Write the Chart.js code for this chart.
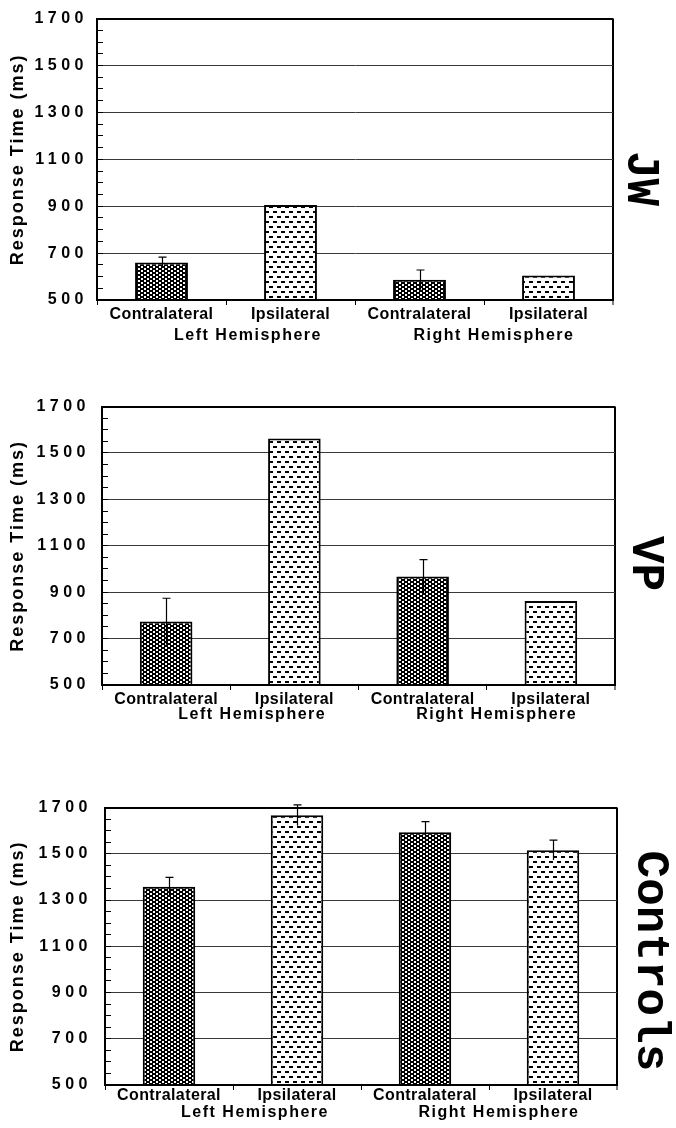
<!DOCTYPE html>
<html>
<head>
<meta charset="utf-8">
<script src="https://cdn.jsdelivr.net/npm/chart.js@4.4.1/dist/chart.umd.min.js"></script>
<style>
  body { margin: 0; background: #fff; }
  canvas { position: absolute; left: 0; }
</style>
</head>
<body>
<canvas id="chartJW" width="676" height="345" style="top:0px"></canvas>
<canvas id="chartVP" width="676" height="345" style="top:385px"></canvas>
<canvas id="chartControls" width="676" height="340" style="top:785px"></canvas>
<script>
// values (ms)
var categories = ['Contralateral', 'Ipsilateral', 'Contralateral', 'Ipsilateral'];
var hemispheres = ['Left Hemisphere', 'Right Hemisphere'];
var yMin = 500, yMax = 1700, yStep = 200, yMinorStep = 50;

var jwMeans = [660, 905, 586, 604];
var jwErrors = [23, 0, 42, 0];
var vpMeans = [774, 1563, 968, 862];
var vpErrors = [100, 0, 72, 0];
var controlMeans = [1358, 1667, 1593, 1516];
var controlErrors = [40, 45, 46, 43];

Chart.defaults.font.family = '"Liberation Sans", Arial, sans-serif';
Chart.defaults.color = '#000';

// dense dotted fill for contralateral bars
function checkerPattern(ctx) {
	var c = document.createElement('canvas');
	c.width = 6; c.height = 4;
	var g = c.getContext('2d');
	g.fillStyle = '#000';
	g.fillRect(0, 0, 6, 4);
	g.fillStyle = '#fff';
	g.fillRect(0, 0, 2, 2);
	g.fillRect(3, 2, 2, 2);
	return ctx.createPattern(c, 'repeat');
}

// staggered dashes for ipsilateral bars
function dashPattern(ctx) {
	var c = document.createElement('canvas');
	c.width = 8; c.height = 10;
	var g = c.getContext('2d');
	g.fillStyle = '#fff';
	g.fillRect(0, 0, 8, 10);
	g.fillStyle = '#000';
	g.fillRect(1, 1, 4, 2);
	g.fillRect(5, 6, 3, 2);
	g.fillRect(0, 6, 1, 2);
	return ctx.createPattern(c, 'repeat');
}

// wide letter spacing like the original typesetting
var spacedText = {
	id: 'spacedText',
	beforeDraw: function(chart) {
		var ctx = chart.ctx;
		[['y', 'drawLabels', '4.5px'], ['y', 'drawTitle', '2px'], ['x', 'drawLabels', '0.4px']].forEach(function(s) {
			var scale = chart.scales[s[0]];
			if (scale['_sp_' + s[1]]) return;
			var orig = scale[s[1]];
			scale[s[1]] = function() {
				ctx.save();
				ctx.letterSpacing = s[2];
				orig.apply(this, arguments);
				ctx.restore();
			};
			scale['_sp_' + s[1]] = true;
		});
	}
};

var errorBars = {
	id: 'errorBars',
	afterDatasetsDraw: function(chart) {
		var ctx = chart.ctx, y = chart.scales.y;
		chart.data.datasets.forEach(function(ds, di) {
			chart.getDatasetMeta(di).data.forEach(function(bar, i) {
				var e = ds.errors[i];
				if (!e) return;
				var x = Math.round(bar.x) + 0.5;
				var top = y.getPixelForValue(ds.data[i] + e);
				var bot = y.getPixelForValue(ds.data[i] - e);
				ctx.save();
				ctx.strokeStyle = '#000';
				ctx.lineWidth = 1.2;
				ctx.beginPath();
				ctx.moveTo(x, bot);
				ctx.lineTo(x, top);
				ctx.moveTo(x - 4, top);
				ctx.lineTo(x + 4, top);
				ctx.stroke();
				ctx.restore();
			});
		});
	}
};

var hemisphereLabels = {
	id: 'hemisphereLabels',
	afterDraw: function(chart, args, opts) {
		var x = chart.scales.x, ctx = chart.ctx;
		ctx.save();
		ctx.font = 'bold 16px "Liberation Sans"';
		ctx.letterSpacing = '1.5px';
		ctx.fillStyle = '#000';
		ctx.textAlign = 'center';
		ctx.textBaseline = 'alphabetic';
		hemispheres.forEach(function(t, k) {
			var cx = (x.getPixelForValue(2 * k) + x.getPixelForValue(2 * k + 1)) / 2 + opts.shift[k];
			ctx.fillText(t, cx, chart.chartArea.bottom + opts.gap);
		});
		ctx.restore();
	}
};

function makePanel(id, name, means, errors, L) {
	var canvas = document.getElementById(id);
	var ctx = canvas.getContext('2d');
	var fills = [checkerPattern(ctx), dashPattern(ctx), checkerPattern(ctx), dashPattern(ctx)];

	return new Chart(canvas, {
		type: 'bar',
		data: {
			labels: categories,
			datasets: [{
				data: means,
				errors: errors,
				yAxisID: 'y',
				backgroundColor: fills,
				borderColor: '#000',
				borderWidth: 2,
				barPercentage: 0.41,
				categoryPercentage: 1
			}]
		},
		options: {
			responsive: false,
			animation: false,
			layout: { padding: { top: 12, left: 0, right: 0, bottom: 0 } },
			plugins: {
				legend: { display: false },
				tooltip: { enabled: false },
				title: {
					display: true,
					text: name,
					position: 'right',
					color: '#000',
					font: { family: '"Liberation Mono", "Courier New", monospace', weight: 'bold', size: 46, lineHeight: 1 },
					padding: { top: L.titleTop, bottom: L.titleBottom }
				},
				hemisphereLabels: { gap: L.groupGap, shift: [22, 10] }
			},
			scales: {
				x: {
					offset: true,
					grid: {
						color: function(c) { return c.type === 'scale' ? '#000' : 'rgba(0,0,0,0)'; },
						lineWidth: function(c) { return c.type === 'scale' ? 2 : 1; },
						tickColor: '#000',
						tickWidth: 1,
						tickLength: 5
					},
					border: { color: '#000', width: 2, z: 1 },
					ticks: {
						color: '#000',
						font: { size: 16, weight: 'bold' },
						padding: L.xPad,
						maxRotation: 0,
						autoSkip: false
					},
					afterFit: function(s) { s.height = L.xHeight; }
				},
				y: {
					weight: 1,
					min: yMin,
					max: yMax,
					ticks: {
						stepSize: yStep,
						color: '#000',
						padding: L.yPad,
						font: { size: 16, weight: 'bold' },
						callback: function(v) { return String(v); }
					},
					grid: {
						drawTicks: false,
						color: function(c) {
							if (c.tick.value === yMax) return '#000';
							if (c.tick.value === yMin) return 'rgba(0,0,0,0)';
							return '#3a3a3a';
						},
						lineWidth: function(c) { return c.tick.value === yMax ? 2 : 1; }
					},
					border: { color: '#000', width: 2 },
					title: {
						display: true,
						text: 'Response Time (ms)',
						color: '#000',
						font: { size: 18, weight: 'bold' },
						padding: { top: 7, bottom: 0 }
					},
					afterFit: function(s) { s.width = L.left; }
				},
				yMinor: {
					type: 'linear',
					position: 'left',
					weight: -1,
					min: yMin,
					max: yMax,
					ticks: { stepSize: yMinorStep, display: false, autoSkip: false },
					grid: { drawOnChartArea: false, drawTicks: true, tickLength: -6, color: '#000', lineWidth: 1 },
					border: { display: false },
					afterFit: function(s) { s.width = 0; }
				}
			}
		},
		plugins: [spacedText, errorBars, hemisphereLabels]
	});
}

makePanel('chartJW', 'JW', jwMeans, jwErrors,
	{ left: 97, yPad: 9, xPad: 0, titleTop: 13, titleBottom: 4, xHeight: 45, groupGap: 40 });
makePanel('chartVP', 'VP', vpMeans, vpErrors,
	{ left: 102, yPad: 12, xPad: 0, titleTop: 8, titleBottom: 7, xHeight: 45, groupGap: 34 });
makePanel('chartControls', 'Controls', controlMeans, controlErrors,
	{ left: 105, yPad: 13, xPad: -4, titleTop: 3, titleBottom: 10, xHeight: 40, groupGap: 32 });
</script>
</body>
</html>
